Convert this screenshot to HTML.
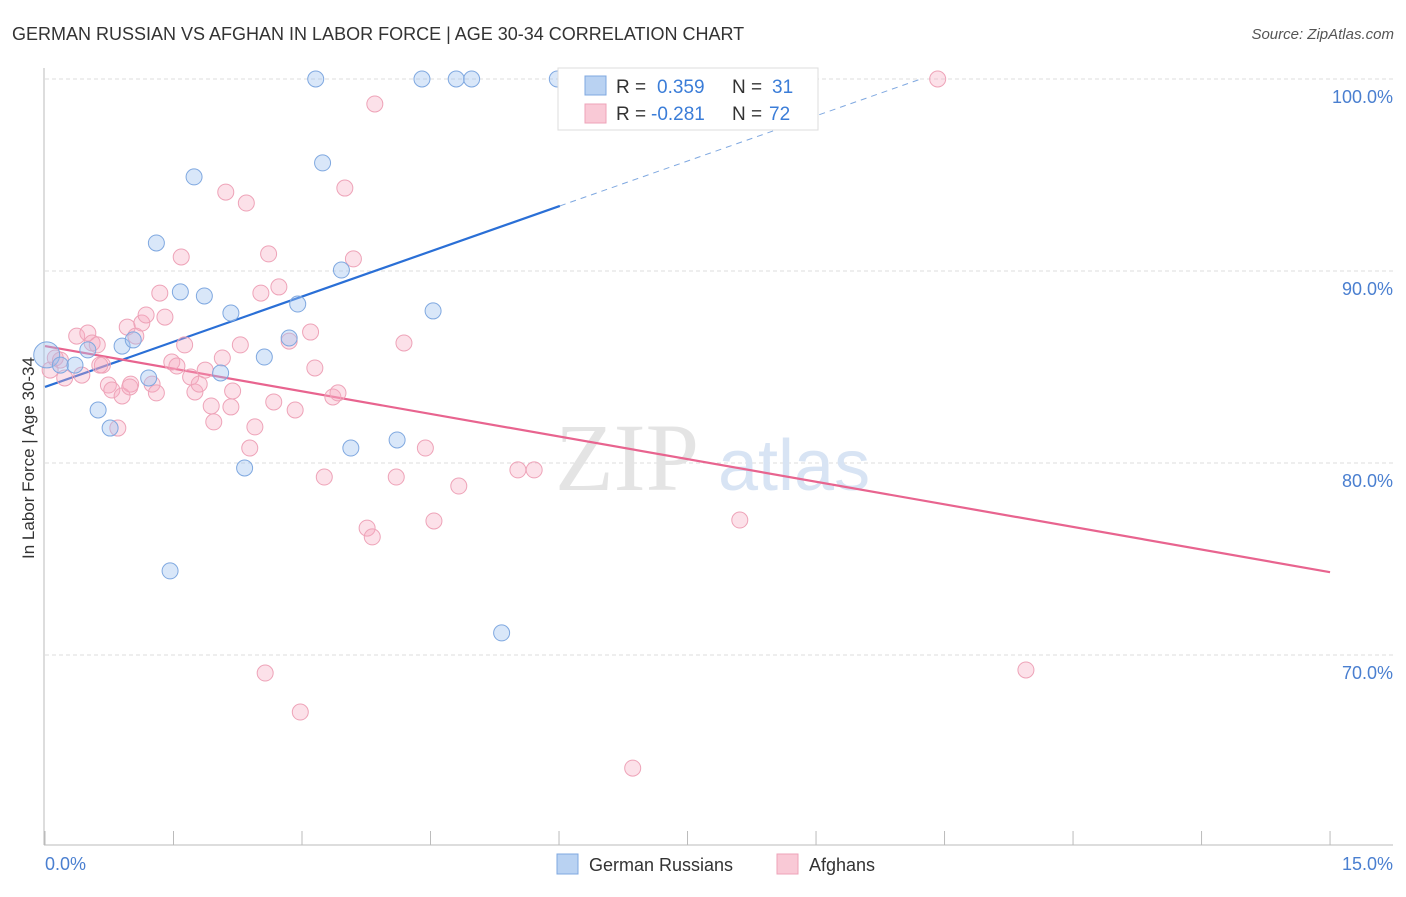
<!DOCTYPE html>
<html><head><meta charset="utf-8"><style>
body{margin:0;background:#fff;font-family:"Liberation Sans",sans-serif}
svg text{font-family:"Liberation Sans",sans-serif}
</style></head><body>
<svg width="1406" height="892" xmlns="http://www.w3.org/2000/svg" id="chart">
<text x="12" y="40" font-size="18" fill="#333">GERMAN RUSSIAN VS AFGHAN IN LABOR FORCE | AGE 30-34 CORRELATION CHART</text>
<text x="1394" y="39" font-size="15" fill="#555" text-anchor="end" font-style="italic">Source: ZipAtlas.com</text>
<g id="grid"></g>
<text x="555" y="490" font-size="96" fill="#e4e4e4" font-family="Liberation Serif" style="font-family:'Liberation Serif',serif">ZIP</text>
<text x="718" y="490" font-size="72" fill="#d8e4f4">atlas</text>
<line x1="44" y1="68" x2="44" y2="845" stroke="#bbb"/>
<line x1="44" y1="845" x2="1393" y2="845" stroke="#bbb"/>
<g id="ticks"></g>
<text x="34" y="458" font-size="17" fill="#333" text-anchor="middle" transform="rotate(-90 34 458)">In Labor Force | Age 30-34</text>
<text x="45" y="870" font-size="18" fill="#4a7fd0">0.0%</text>
<text x="1393" y="870" font-size="18" fill="#4a7fd0" text-anchor="end">15.0%</text>
<g id="trend"></g>
<g id="pts"></g>
<g>
<rect x="558" y="68" width="260" height="62" fill="#fff" stroke="#ddd"/>
<rect x="585" y="76" width="21" height="19" fill="#b9d2f2" stroke="#7fa8e0"/>
<rect x="585" y="104" width="21" height="19" fill="#f9c9d6" stroke="#eea3b8"/>
<text x="616" y="93" font-size="19" fill="#333">R = </text><text x="657" y="93" font-size="19" fill="#3b7dd8">0.359</text>
<text x="732" y="93" font-size="19" fill="#333">N = </text><text x="772" y="93" font-size="19" fill="#3b7dd8">31</text>
<text x="616" y="120" font-size="19" fill="#333">R = </text><text x="651" y="120" font-size="19" fill="#3b7dd8">-0.281</text>
<text x="732" y="120" font-size="19" fill="#333">N = </text><text x="769" y="120" font-size="19" fill="#3b7dd8">72</text>
</g>
<g>
<rect x="557" y="854" width="21" height="20" fill="#b9d2f2" stroke="#7fa8e0"/>
<text x="589" y="871" font-size="18" fill="#333">German Russians</text>
<rect x="777" y="854" width="21" height="20" fill="#f9c9d6" stroke="#eea3b8"/>
<text x="809" y="871" font-size="18" fill="#333">Afghans</text>
</g>
</svg>
<script>
const yTicks=[100,90,80,70];
const xTickVals=[0,1.5,3,4.5,6,7.5,9,10.5,12,13.5,15];
const blueX=[0.02,0.18,0.50,0.35,0.62,0.76,0.90,1.03,1.21,1.30,1.46,1.58,1.74,1.86,2.05,2.17,2.33,2.56,2.85,2.95,3.16,3.24,3.46,3.57,4.11,4.40,4.53,4.80,4.98,5.33,5.98];
const blueY=[85.63,85.10,85.89,85.10,82.76,81.82,86.09,86.41,84.43,91.46,74.38,88.91,94.90,88.70,84.69,87.81,79.74,85.52,86.51,88.28,100,95.63,90.05,80.78,81.20,100,87.92,100,100,71.15,100];
const pinkX=[0.06,0.12,0.18,0.23,0.37,0.43,0.50,0.55,0.61,0.67,0.74,0.78,0.85,0.90,0.96,1.00,1.06,1.13,1.18,1.25,1.30,1.34,1.40,1.48,1.54,1.59,1.63,1.70,1.75,1.80,1.87,1.94,1.97,2.07,2.11,2.17,2.19,2.28,2.35,2.39,2.45,2.52,2.61,2.67,2.73,2.85,2.92,3.10,3.15,3.26,3.36,3.42,3.50,3.60,3.76,3.82,3.85,4.10,4.19,4.44,4.54,4.83,5.52,5.71,6.86,8.11,11.45,2.57,2.98,10.42,0.64,0.99];
const pinkY=[84.84,85.47,85.36,84.43,86.61,84.58,86.77,86.25,86.15,85.10,84.06,83.80,81.82,83.49,87.08,84.11,86.61,87.29,87.71,84.11,83.65,88.85,87.60,85.26,85.05,90.73,86.15,84.48,83.70,84.11,84.84,82.97,82.14,85.47,94.11,82.92,83.75,86.15,93.54,80.78,81.88,88.85,90.89,83.18,89.17,86.35,82.76,86.82,84.95,79.27,83.44,83.65,94.32,90.63,76.61,76.15,98.70,79.27,86.25,80.78,76.98,78.80,79.64,79.64,64.11,77.03,69.22,69.06,67.03,100,85.10,83.96];
const blueTrend=[83.96,1.569]; // intercept, slope per %
const pinkTrend=[86.09,-0.785];
const xs=v=>45+v*85.67, ys=v=>79+(100-v)*19.2;
const NS="http://www.w3.org/2000/svg";
function mk(t,a,p){const e=document.createElementNS(NS,t);for(const k in a)e.setAttribute(k,a[k]);p.appendChild(e);return e;}
const grid=document.getElementById('grid');
yTicks.forEach(v=>{
 const l=mk('line',{x1:45,x2:1393,y1:ys(v),y2:ys(v),stroke:'#ddd','stroke-dasharray':'4,3'},grid);
 
 
 const t=mk('text',{x:1393,y:ys(v)+24,'font-size':18,fill:'#4a7fd0','text-anchor':'end'},grid);
 t.textContent=v.toFixed(1)+'%';
 
 
});
const tk=document.getElementById('ticks');
xTickVals.forEach(v=>{
 const l=mk('line',{x1:xs(v),x2:xs(v),y1:831,y2:845,stroke:'#bbb'},tk);
 
 
});
const tr=document.getElementById('trend');
const xe=6.01, xd=(100-blueTrend[0])/blueTrend[1];
let l1=mk('line',{x1:xs(0),y1:ys(blueTrend[0]),x2:xs(xe),y2:ys(blueTrend[0]+blueTrend[1]*xe),stroke:'#2a6fd6','stroke-width':2.2},tr);


let l2=mk('line',{x1:xs(xe),y1:ys(blueTrend[0]+blueTrend[1]*xe),x2:xs(xd),y2:ys(100),stroke:'#7fa8e0','stroke-width':1,'stroke-dasharray':'6,5'},tr);


let l3=mk('line',{x1:xs(0),y1:ys(pinkTrend[0]),x2:xs(15),y2:ys(pinkTrend[0]+pinkTrend[1]*15),stroke:'#e8648f','stroke-width':2.2},tr);


const pts=document.getElementById('pts');
pinkX.forEach((x,i)=>{
 const c=mk('circle',{cx:xs(x),cy:ys(pinkY[i]),r:8,fill:'rgba(246,168,193,0.35)',stroke:'#eea3b8','stroke-width':1},pts);
 
 
});
blueX.forEach((x,i)=>{
 const c=mk('circle',{cx:xs(x),cy:ys(blueY[i]),r:i==0?13:8,fill:'rgba(160,195,240,0.4)',stroke:'#7fa8e0','stroke-width':1},pts);
 
 
});
</script>
</body></html>
